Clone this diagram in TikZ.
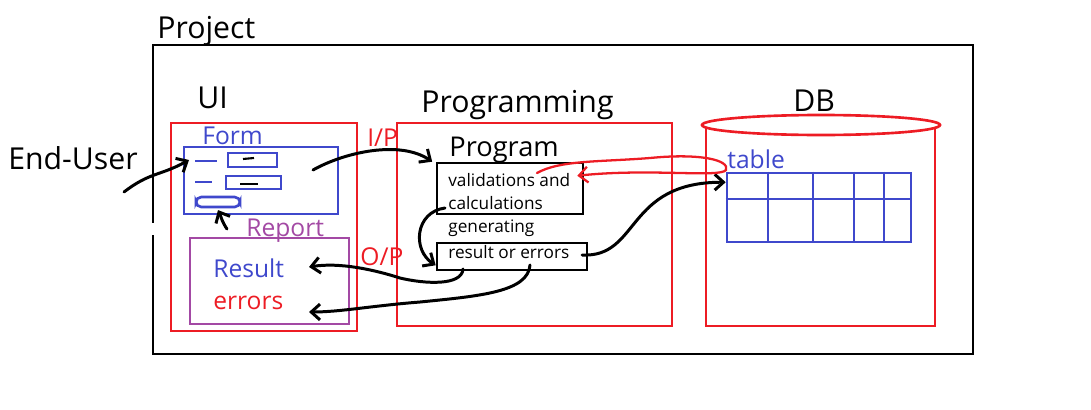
\documentclass[tikz,border=0pt]{standalone}
\usepackage{fontspec}
\setmainfont{Open Sans}
\usetikzlibrary{arrows.meta}
\definecolor{pred}{RGB}{237,28,36}
\definecolor{pblue}{RGB}{63,72,204}
\definecolor{ppurple}{RGB}{163,73,164}
\begin{document}
\begin{tikzpicture}[x=0.02cm, y=-0.02cm,
    box/.style={draw, line width=1.5pt, inner sep=0pt},
    big/.style={font=\fontsize{17.2}{19}\selectfont, anchor=base west, inner sep=0pt},
    mid/.style={font=\fontsize{14}{16}\selectfont, anchor=base west, inner sep=0pt},
    small/.style={font=\fontsize{9.8}{11}\selectfont, anchor=base west, inner sep=0pt},
    pen/.style={line width=1.7pt, line cap=round, line join=round},
    tip/.style={-{Straight Barb[length=5pt,width=9pt]}}]
    \useasboundingbox (0,0) rectangle (1091,409);

    % outer frame
    \node[box, minimum width=16.4cm, minimum height=6.18cm] (prj) at (563,199.5) {};
    \fill[white] (150,223) rectangle (156,235);
    \node[big] (prjl) at (157,38) {Project};
    \node[big] (eu) at (8,169) {End-User};

    % UI part
    \node[big] (uil) at (197,108) {UI};
    \node[box, pred, minimum width=3.72cm, minimum height=4.16cm] (ui) at (264,227) {};
    \node[mid, pblue] (forml) at (202,144) {Form};
    \node[box, pblue, minimum width=3.08cm, minimum height=1.34cm] (form) at (261,180.5) {};
    \draw[pblue, line width=1.5pt] (195,161) -- (217,161);
    \draw[pblue, line width=1.5pt] (195,182) -- (212,182);
    \node[box, pblue, minimum width=0.98cm, minimum height=0.28cm] (fld1) at (252.5,160) {};
    \node[box, pblue, minimum width=1.1cm, minimum height=0.26cm] (fld2) at (253.5,182.5) {};
    \node[box, pblue, rounded corners=3pt, minimum width=0.88cm, minimum height=0.2cm] (btn) at (218,202) {};
    \draw[line width=1.2pt] (243,159) -- (254,158);
    \draw[line width=1.2pt] (240,184) -- (258,184);
    \node[mid, ppurple] (repl) at (246,236) {Report};
    \node[box, ppurple, minimum width=3.18cm, minimum height=1.72cm] (rep) at (269.5,281) {};
    \node[mid, pblue] (res) at (213,277) {Result};
    \node[mid, pred] (err) at (213,309) {errors};
    \node[mid, pred] (ip) at (367,146) {I/P};
    \node[mid, pred] (op) at (360,265) {O/P};

    % programming part
    \node[big] (prgl) at (421,112) {Programming};
    \node[box, pred, minimum width=5.5cm, minimum height=4.06cm] (prg) at (534.5,224.5) {};
    \node[font=\fontsize{15.5}{17}\selectfont, anchor=base west, inner sep=0pt] (pl) at (449,156) {Program};
    \node[box, minimum width=2.92cm, minimum height=1.02cm] (b1) at (510,188.5) {};
    \node[small] (t1) at (448,186) {validations and};
    \node[small] (t2) at (448,209) {calculations};
    \node[small] (t3) at (448,232) {generating};
    \node[box, minimum width=3cm, minimum height=0.54cm] (b2) at (512,256.5) {};
    \node[small] (t4) at (448,258) {result or errors};

    % database
    \node[big] (dbl) at (793,111) {DB};
    \draw[pred, line width=1.5pt] (706,127) -- (706,326) -- (935,326) -- (935,127);
    \draw[pred, line width=1.5pt] (821,125) ellipse [x radius=119, y radius=10];
    \node[mid, pblue] (tbll) at (727,168) {table};
    \node[box, pblue, minimum width=3.68cm, minimum height=1.38cm] (tbl) at (819,207.5) {};
    \draw[pblue, line width=1.5pt] (tbl.west |- 0,199) -- (tbl.east |- 0,199);
    \foreach \c in {768,813,854,884}
        \draw[pblue, line width=1.5pt] (\c,0 |- tbl.north) -- (\c,0 |- tbl.south);

    % connectors
    \coordinate (eu0) at (124,192);
    \coordinate (fm1) at (189,160);
    \coordinate (bt0) at (227,229);
    \coordinate (fm0) at (313,170);
    \coordinate (b1s) at (445,208);
    \coordinate (b2a) at (463,269);
    \coordinate (b2b) at (530,265);
    \coordinate (b2c) at (582,255);
    \coordinate (rs) at (309,267);
    \coordinate (er) at (309,312);
    \coordinate (vc) at (537,173);
    \coordinate (lp) at (726,170);
    \draw[pen, tip] (eu0) .. controls (150,172) and (160,176) .. (fm1);
    \draw[pen, tip] (bt0) .. controls (222,222) and (220,214) .. ([yshift=-1pt]btn.south);
    \draw[pen, tip] (fm0) .. controls (345,152) and (400,140) .. ([xshift=-2pt]b1.north west);
    \draw[pen, tip] (b1s) .. controls (415,212) and (412,250) .. ([yshift=-5pt]b2.west);
    \draw[pen, tip] (b2a) .. controls (462,286) and (425,284) .. (400,278)
        .. controls (375,270) and (340,262) .. (rs);
    \draw[pen, tip] (b2b) .. controls (528,292) and (480,296) .. (420,302)
        .. controls (370,306) and (340,312) .. (er);
    \draw[pen, tip] (b2c) .. controls (640,258) and (625,182) .. ([yshift=-6pt]tbl.north west);
    \draw[pred, line width=1.3pt, line cap=round, tip] (vc) .. controls (560,160) and (600,162) .. (650,158)
        .. controls (700,153) and (730,160) .. (lp)
        .. controls (720,178) and (650,168) .. ([xshift=-4pt,yshift=-8pt]b1.north east);
\end{tikzpicture}
\end{document}
